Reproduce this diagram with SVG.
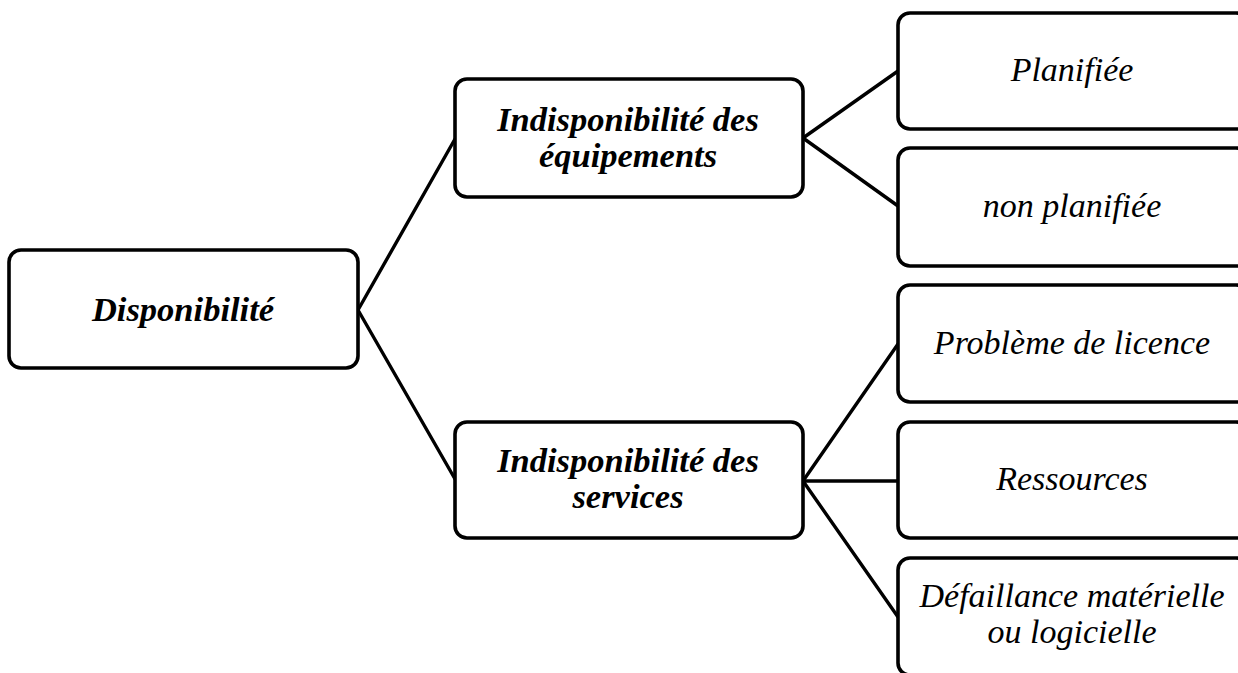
<svg xmlns="http://www.w3.org/2000/svg" width="1238" height="673" viewBox="0 0 1238 673">
<style>
.box{fill:#fff;stroke:#000;stroke-width:3.6}
.conn line{stroke:#000;stroke-width:3.4;stroke-linecap:round}
.b{font-family:"Liberation Serif","Times New Roman",serif;font-weight:bold;font-style:italic;font-size:34.5px;fill:#000;text-anchor:middle}
.r{font-family:"Liberation Serif","Times New Roman",serif;font-style:italic;font-size:34px;fill:#000;text-anchor:middle}
</style>
<rect width="1238" height="673" fill="#fff"/>
<g id="connectors" class="conn">
<line x1="358" y1="310" x2="455" y2="139"/>
<line x1="358" y1="310" x2="455" y2="479"/>
<line x1="803" y1="138" x2="898" y2="71"/>
<line x1="803" y1="138" x2="898" y2="206"/>
<line x1="803" y1="481" x2="898" y2="344"/>
<line x1="803" y1="481" x2="898" y2="481"/>
<line x1="803" y1="481" x2="898" y2="617"/>
</g>
<g id="n-disponibilite">
<rect class="box" x="9" y="250" width="349" height="118" rx="12"/>
<text class="b" x="183" y="321">Disponibilité</text>
</g>
<g id="n-equipements">
<rect class="box" x="455" y="79" width="348" height="118" rx="12"/>
<text class="b" x="628" y="131">Indisponibilité des</text>
<text class="b" x="628" y="167">équipements</text>
</g>
<g id="n-services">
<rect class="box" x="455" y="422" width="348" height="116" rx="12"/>
<text class="b" x="628" y="472">Indisponibilité des</text>
<text class="b" x="628" y="508">services</text>
</g>
<g id="n-planifiee">
<rect class="box" x="898" y="13" width="350" height="116" rx="12"/>
<text class="r" x="1072" y="81">Planifiée</text>
</g>
<g id="n-non-planifiee">
<rect class="box" x="898" y="148" width="350" height="118" rx="12"/>
<text class="r" x="1072" y="217">non planifiée</text>
</g>
<g id="n-licence">
<rect class="box" x="898" y="285" width="350" height="117" rx="12"/>
<text class="r" x="1072" y="354">Problème de licence</text>
</g>
<g id="n-ressources">
<rect class="box" x="898" y="422" width="350" height="116" rx="12"/>
<text class="r" x="1072" y="490">Ressources</text>
</g>
<g id="n-defaillance">
<rect class="box" x="898" y="558" width="350" height="117" rx="12"/>
<text class="r" x="1072" y="607">Défaillance matérielle</text>
<text class="r" x="1072" y="643">ou logicielle</text>
</g>
</svg>
